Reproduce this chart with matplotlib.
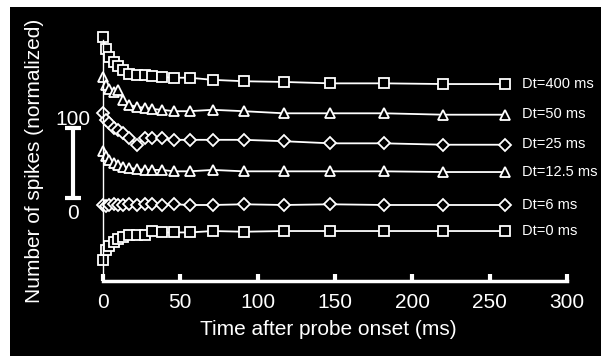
import matplotlib.pyplot as plt
from matplotlib.patches import Rectangle

plt.rcParams["font.family"] = ["Liberation Sans", "DejaVu Sans"]

# sample times after probe onset (ms)
t_ms = [0, 2, 4, 7, 10, 13, 17, 22, 27, 32, 38, 46, 56, 71, 91, 117, 147, 182, 220, 260]

# normalized spike counts, one list per probe delay
dt400 = [167, 150, 138, 132, 126, 120, 114, 113, 113, 112, 110, 109, 109, 106, 104, 103, 101, 101, 100, 100]
dt50 = [153, 141, 136, 131, 134, 120, 113, 110, 109, 107, 106, 104, 104, 106, 104, 101, 101, 101, 99, 99]
dt25 = [144, 134, 130, 123, 120, 116, 109, 99, 109, 109, 109, 106, 106, 106, 106, 104, 101, 101, 99, 99]
dt12 = [130, 123, 117, 113, 110, 107, 106, 104, 103, 103, 103, 101, 101, 103, 101, 101, 101, 101, 100, 100]
dt6 = [100, 99, 100, 101, 100, 100, 101, 100, 102, 101, 100, 101, 100, 100, 101, 100, 101, 100, 100, 100]
dt0 = [59, 73, 79, 84, 89, 91, 94, 95, 95, 100, 98, 98, 98, 100, 99, 100, 100, 100, 100, 100]

labels = ["Dt=400 ms", "Dt=50 ms", "Dt=25 ms", "Dt=12.5 ms", "Dt=6 ms", "Dt=0 ms"]
series = [dt400, dt50, dt25, dt12, dt6, dt0]
markers = ["s", "^", "D", "^", "D", "s"]
# vertical stacking of the traces
offsets = [181.4, 138.6, 95.7, 55.7, 8.6, -28.6]

fig = plt.figure(figsize=(6.01, 3.56), dpi=100, facecolor="white")
fig.patches.append(Rectangle((10 / 601, 0), 1, 349 / 356, transform=fig.transFigure,
                             facecolor="black", edgecolor="none", zorder=-1))
ax = fig.add_axes([103 / 601, 75 / 356, 464 / 601, 261 / 356])
ax.set_facecolor("black")

for vals, mk, off, lab in zip(series, markers, offsets, labels):
    y = [v + off for v in vals]
    ms = 6.5 if mk == "s" else (6 if mk == "D" else 7)
    ax.plot(t_ms, y, color="white", lw=1.3, marker=mk, ms=ms,
            mfc="black", mec="white", mew=1.3, clip_on=False)
    ax.text(271, 100 + off, lab, color="white", fontsize=10.5, va="center",
            ha="left", clip_on=False)

ax.set_xlim(0, 300)
ax.set_ylim(0, 372.9)
ax.set_xticks([0, 50, 100, 150, 200, 250, 300])
ax.set_yticks([])
ax.tick_params(axis="x", colors="white", direction="in", length=5, width=3,
               labelsize=15, pad=9)
for side in ["top", "right"]:
    ax.spines[side].set_visible(False)
ax.spines["bottom"].set_color("white")
ax.spines["bottom"].set_linewidth(2.5)
ax.spines["left"].set_color("white")
ax.spines["left"].set_linewidth(1)
ax.spines["left"].set_bounds(0, 345)
ax.set_xlabel("Time after probe onset (ms)", color="white", fontsize=15)
ax.xaxis.set_label_coords(0.485, -0.15)

# 0-100 scale bar
bar_x = -19.4
ax.plot([bar_x, bar_x], [118.6, 218.6], color="white", lw=3, clip_on=False,
        solid_capstyle="butt")
ax.plot([bar_x, bar_x], [118.6, 218.6], color="white", lw=0, marker="_", ms=12,
        mew=3, clip_on=False)
ax.text(bar_x, 231, "100", color="white", fontsize=15, ha="center", va="center",
        clip_on=False)
ax.text(bar_x, 97, "0", color="white", fontsize=15, ha="center", va="center",
        clip_on=False)

fig.text(35 / 601, 1 - 161 / 356, "Number of spikes (normalized)", color="white",
         fontsize=15, rotation=90, ha="center", va="center")

fig.savefig("out.png", dpi=100, facecolor=fig.get_facecolor())
